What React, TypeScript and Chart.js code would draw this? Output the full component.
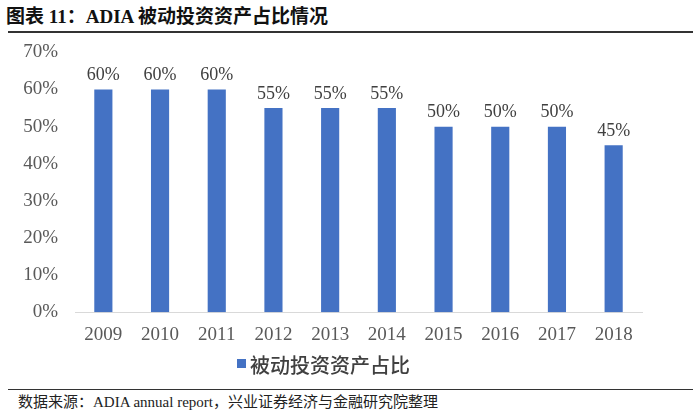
import React, { useEffect, useRef } from "react";
import { Chart, registerables } from "chart.js";

Chart.register(...registerables);

const categories = ["2009", "2010", "2011", "2012", "2013", "2014", "2015", "2016", "2017", "2018"];
const passiveShare = [60, 60, 60, 55, 55, 55, 50, 50, 50, 45];
const yTicks = [0, 10, 20, 30, 40, 50, 60, 70];
const seriesName = "被动投资资产占比";
const titleText = "图表 11：ADIA 被动投资资产占比情况";
const sourceText = "数据来源：ADIA annual report，兴业证券经济与金融研究院整理";

const BAR_COLOR = "#4472C4";
const SERIF = "'Liberation Serif', 'Noto Sans CJK SC', serif";

const valueLabels = {
  id: "valueLabels",
  afterDatasetsDraw(chart: any) {
    const ctx = chart.ctx;
    const meta = chart.getDatasetMeta(0);
    ctx.save();
    ctx.font = "18px " + SERIF;
    ctx.fillStyle = "#404040";
    ctx.textAlign = "center";
    ctx.textBaseline = "bottom";
    meta.data.forEach((bar: any, i: number) => {
      ctx.fillText(passiveShare[i] + "%", bar.x, bar.y - 5);
    });
    ctx.restore();
  },
};

export default function App() {
  const ref = useRef<HTMLCanvasElement>(null);
  useEffect(() => {
    if (!ref.current) return;
    const chart = new Chart(ref.current, {
      type: "bar",
      data: {
        labels: categories,
        datasets: [
          {
            label: seriesName,
            data: passiveShare,
            backgroundColor: BAR_COLOR,
            categoryPercentage: 1,
            barPercentage: 0.32,
          },
        ],
      },
      options: {
        animation: false,
        responsive: false,
        maintainAspectRatio: false,
        layout: { padding: { top: 2, right: 58, left: 0, bottom: 0 } },
        plugins: {
          legend: { display: false },
          tooltip: { enabled: false },
          title: { display: false },
        },
        scales: {
          x: {
            grid: { display: false, drawTicks: false },
            border: { display: true, color: "#D9D9D9", width: 1 },
            ticks: {
              color: "#595959",
              font: { family: SERIF, size: 19 },
              padding: 11,
            },
          },
          y: {
            min: 0,
            max: 70,
            afterBuildTicks(axis: any) {
              axis.ticks = yTicks.map((v) => ({ value: v }));
            },
            afterFit(axis: any) {
              axis.width = 75;
            },
            grid: { display: false, drawTicks: false },
            border: { display: false },
            ticks: {
              color: "#595959",
              font: { family: SERIF, size: 19 },
              padding: 17,
              callback: (v: any) => v + "%",
            },
          },
        },
      },
      plugins: [valueLabels],
    });
    return () => chart.destroy();
  }, []);

  return (
    <div style={{ position: "absolute", left: 0, top: 0, width: 700, height: 413, background: "#fff", overflow: "hidden" }}>
      <div
        style={{
          position: "absolute",
          left: 6,
          top: 6,
          fontFamily: SERIF,
          fontWeight: "bold",
          fontSize: 19,
          lineHeight: "22px",
          color: "#111",
          whiteSpace: "nowrap",
        }}
      >
        {titleText}
      </div>
      <div style={{ position: "absolute", left: 8, top: 31, width: 685, height: 2, background: "#333" }} />
      <canvas ref={ref} width={700} height={333} style={{ position: "absolute", left: 0, top: 24, width: 700, height: 333 }} />
      <div
        style={{
          position: "absolute",
          left: 237,
          top: 353,
          display: "flex",
          alignItems: "center",
          whiteSpace: "nowrap",
        }}
      >
        <span style={{ display: "inline-block", width: 9, height: 9, background: BAR_COLOR, marginRight: 4, position: "relative", top: -2 }} />
        <span style={{ fontFamily: "'Noto Sans CJK SC', sans-serif", fontSize: 20, fontWeight: 500, color: "#404040", lineHeight: "24px" }}>
          {seriesName}
        </span>
      </div>
      <div style={{ position: "absolute", left: 8, top: 389, width: 685, height: 1, background: "#333" }} />
      <div
        style={{
          position: "absolute",
          left: 18,
          top: 393,
          fontFamily: SERIF,
          fontSize: 15,
          lineHeight: "18px",
          color: "#222",
          whiteSpace: "nowrap",
        }}
      >
        {sourceText}
      </div>
    </div>
  );
}
